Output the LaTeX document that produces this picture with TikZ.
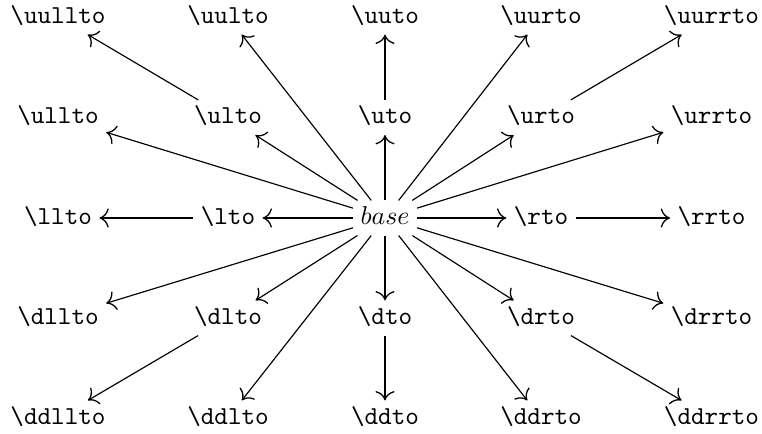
\documentclass[tikz,border=0pt]{standalone}
\usetikzlibrary{arrows.meta}
\begin{document}
\begin{tikzpicture}[x=0.3868pt,y=-0.3868pt,
  obj/.style={inner xsep=2.7pt,inner ysep=1.6pt,text height=7.5pt,text depth=2.5pt,font=\ttfamily},
  ar/.style={-{Computer Modern Rightarrow[length=3.6pt,width=7.4pt,line width=0.5pt]}},
  thickar/.style={ar,line width=1.05pt},
  thinar/.style={ar,line width=0.45pt}]
\useasboundingbox (0,0) rectangle (762,434);
% row 1
\node[obj] (uull) at (58,17) {\string\uullto};
\node[obj] (uul) at (228,17) {\string\uulto};
\node[obj] (uu) at (385,17) {\string\uuto};
\node[obj] (uur) at (541,17) {\string\uurto};
\node[obj] (uurr) at (711.5,17) {\string\uurrto};
% row 2
\node[obj] (ull) at (58,117.5) {\string\ullto};
\node[obj] (ul) at (228,117.5) {\string\ulto};
\node[obj] (u) at (385,117.5) {\string\uto};
\node[obj] (ur) at (541,117.5) {\string\urto};
\node[obj] (urr) at (711.5,117.5) {\string\urrto};
% row 3
\node[obj] (ll) at (58,218) {\string\llto};
\node[obj] (l) at (228,218) {\string\lto};
\node[obj] (b) at (385,218) {$base$};
\node[obj] (r) at (541,218) {\string\rto};
\node[obj] (rr) at (711.5,218) {\string\rrto};
% row 4
\node[obj] (dll) at (58,318) {\string\dllto};
\node[obj] (dl) at (228,318) {\string\dlto};
\node[obj] (d) at (385,318) {\string\dto};
\node[obj] (dr) at (541,318) {\string\drto};
\node[obj] (drr) at (711.5,318) {\string\drrto};
% row 5
\node[obj] (ddll) at (58,418) {\string\ddllto};
\node[obj] (ddl) at (228,418) {\string\ddlto};
\node[obj] (dd) at (385,418) {\string\ddto};
\node[obj] (ddr) at (541,418) {\string\ddrto};
\node[obj] (ddrr) at (711.5,418) {\string\ddrrto};
% straight arrows
\draw[thickar] (b) -- (l);
\draw[thickar] (l) -- (ll);
\draw[thickar] (b) -- (r);
\draw[thickar] (r) -- (rr);
\draw[thickar] (b) -- (u);
\draw[thickar] (u) -- (uu);
\draw[thickar] (b) -- (d);
\draw[thickar] (d) -- (dd);
% diagonal arrows
\draw[thinar] (b) -- (ul);
\draw[thinar] (ul) -- (uull);
\draw[thinar] (b) -- (ur);
\draw[thinar] (ur) -- (uurr);
\draw[thinar] (b) -- (dl);
\draw[thinar] (dl) -- (ddll);
\draw[thinar] (b) -- (dr);
\draw[thinar] (dr) -- (ddrr);
\draw[thinar] (b) -- (ull);
\draw[thinar] (b) -- (urr);
\draw[thinar] (b) -- (dll);
\draw[thinar] (b) -- (drr);
\draw[thinar] (b) -- (uul);
\draw[thinar] (b) -- (uur);
\draw[thinar] (b) -- (ddl);
\draw[thinar] (b) -- (ddr);
\end{tikzpicture}
\end{document}
